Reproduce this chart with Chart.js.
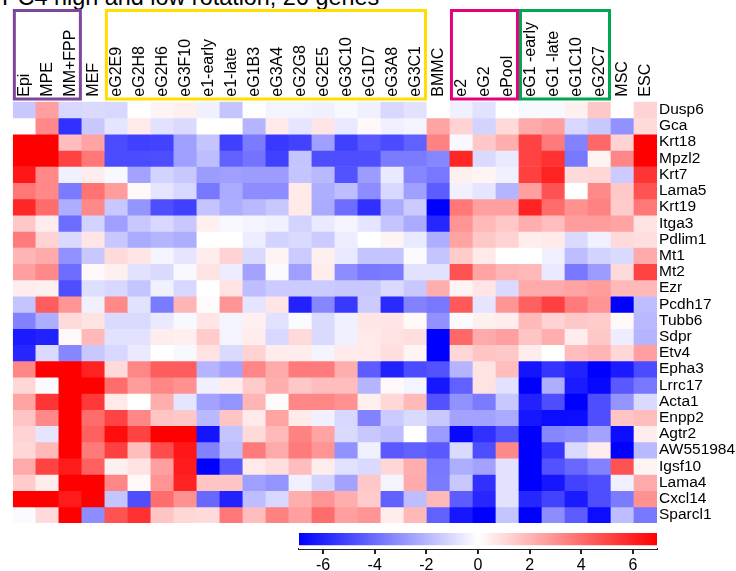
<!DOCTYPE html>
<html>
<head>
<meta charset="utf-8">
<script src="https://cdn.jsdelivr.net/npm/chart.js@4.4.1/dist/chart.umd.min.js"></script>
<style>
  body { margin: 0; background: #fff; overflow: hidden; }
  #wrap { position: relative; width: 736px; height: 571px; }
  #title { position: absolute; left: 2px; top: -14px; font: 23.4px "Liberation Sans", Arial, sans-serif; line-height: 1; white-space: nowrap; color: #000; }
  #heat { position: absolute; left: 0; top: 0; }
  #cbar { position: absolute; left: 280px; top: 525px; }
</style>
</head>
<body>
<div id="wrap">
  <div id="title">PC4 high and low rotation, 26 genes</div>
  <canvas id="heat" width="736" height="571"></canvas>
  <canvas id="cbar" width="400" height="46"></canvas>
</div>
<script>
const samples = ['Epi', 'MPE', 'MM+FPP', 'MEF', 'eG2E9', 'eG2H8', 'eG2H6', 'eG3F10', 'e1-early', 'e1-late',
  'eG1B3', 'eG3A4', 'eG2G8', 'eG2E5', 'eG3C10', 'eG1D7', 'eG3A8', 'eG3C1', 'BMMC', 'e2', 'eG2', 'ePool',
  'eG1 -early', 'eG1 -late', 'eG1C10', 'eG2C7', 'MSC', 'ESC'];
const genes = ['Dusp6', 'Gca', 'Krt18', 'Mpzl2', 'Krt7', 'Lama5', 'Krt19', 'Itga3', 'Pdlim1', 'Mt1', 'Mt2', 'Ezr',
  'Pcdh17', 'Tubb6', 'Sdpr', 'Etv4', 'Epha3', 'Lrrc17', 'Acta1', 'Enpp2', 'Agtr2', 'AW551984', 'Igsf10', 'Lama4',
  'Cxcl14', 'Sparcl1'];
// one row per gene, one value per sample (same order as samples)
const values = [
  [-1.5, 2.6, -1.1, -1, -1.1, 0, 0.3, 0.4, -0.4, -1.6, 0, -0.3, -0.3, -0.4, -0.2, -0.4, -1.1, -0.8, 0, -0.4, -0.8, 0, -0.2, -0.2, 0.4, 1.5, 0, 1.2],
  [0, 3.2, -5.6, -1.5, -0.7, 0.6, -0.8, -1, 0, 0, -2, 0.6, -0.7, 0.7, -0.6, 0.2, -0.4, -0.3, 2.5, 1.2, -1.2, 1, 2.3, 2.6, -1.1, -1.5, -3, 1],
  [7, 7, 1.8, 2.5, -4.9, -5.2, -5.1, -2.6, -1.6, -5.2, -3.6, -5.4, -5.1, -2.6, -5.2, -4.5, -4.9, -4.3, 3.4, -0.2, 1.5, 2.2, 5.1, 3.6, -3.4, 4.1, 1.2, 7],
  [7, 7, 5.1, 3.7, -4.9, -4.9, -4.8, -2.6, -1.8, -4.3, -3.8, -5.2, -1.6, -4.8, -4.8, -4.8, -3.6, -3.6, -3.3, 5.9, -1, -0.6, 5.1, 5.6, -3.7, 0.3, 3.3, 7],
  [6.3, 3.2, -0.4, 0.5, -0.2, -2.5, -1.2, -1.5, -2.7, -2.6, -2.7, -2.7, -1.6, -1.9, -4.7, -2.7, -0.6, -3.3, -3.7, 0.4, 0.3, -0.4, 5.2, 6, 1, 1.1, -1.4, 5.5],
  [3.7, 3.2, -3.6, 3.8, 2.7, 0.2, -0.7, -1.1, -3.7, -2.3, -3.1, -3.1, 0.6, -2.2, -1.8, -3.1, -1.1, -2.6, -4.4, -0.4, -0.7, -2, 2.6, 4.7, 0, 3.2, 1.5, 4.7],
  [5.9, 4, -2.2, 3.2, -1.5, -2.9, -4.8, -5.2, -1.6, -2.2, -1.9, -1.5, 0.6, -2.3, -4, -5.6, -2.3, -1.4, -7, 3.7, 2.6, 2.6, 6, 4, 3, 3.4, 1.4, 3.7],
  [1.5, 0.5, -4, -1.2, -2.6, -1.5, -1.1, -1.5, 0.4, -0.2, -0.3, -0.4, -1.2, -0.6, -0.3, -0.7, -1.6, -2.3, -5.9, 2.9, 1.9, 1.5, 2.2, 1.8, 2.7, 2.7, 2.5, 0.8],
  [3.6, 1.2, -1, 0.7, -1.5, -2.3, -2, -2.2, 0, 0, -0.5, -1.2, -1, -1.4, -0.5, 0, 0.3, -0.6, -2.2, 2.5, 1.5, 1.2, 0.5, 0.6, -1, -0.4, 1, 0.9],
  [2, 2.3, -3, -1.5, 1, 0.7, -0.3, -0.7, 0.5, 1.2, -1, 0.3, -1.4, 0.4, -0.6, -1.6, -1.6, -0.1, -1.6, 1.4, 0.6, 0, 0, -0.4, -1.8, -1.2, -1, 2.3],
  [2.6, 3.2, -4, 0.2, 0.4, -0.8, -1, -0.2, 0.8, -0.5, -2.5, -0.1, -2.6, 0.5, -3.1, -3.7, -3.6, -0.8, -0.8, 4.7, 2.5, 2, 1.9, -0.6, -3.7, -2.7, 1, 5.1],
  [0.5, 0.4, -4.8, -0.9, -1.1, -1.6, -0.4, -1.1, 0, 0.8, -1.8, -1.4, -1.4, -1.4, -1.5, -1.5, -1, -1.5, 2.2, 0.3, 0.7, -1, 2.3, 2.3, 2.5, 2.7, 1.9, 1.9],
  [-1.6, 4.4, 2.9, -0.4, 3.2, -0.8, -3.6, 2, 0.1, 2.9, -0.7, 0.7, -6, -3.3, -5.4, -1.4, -5.8, -3.4, -3.7, 4.5, -0.7, 2.9, 4.3, 5.2, 3.6, 2.9, -7, -1.8],
  [-3.4, -2.2, 1, 0.8, -1, -1, -0.6, -0.2, 0.7, -0.3, 0.4, -0.8, -0.1, -1, -0.4, 0.7, 0.7, 0.2, -3, -0.1, 0.4, 0.5, 1.9, 1.2, 1.5, 1.4, 0.2, -1.9],
  [-6.2, -6, 0.2, 1.9, -0.8, -0.8, 0.5, 0.4, 1.4, -0.3, 0.5, -1.1, 1, -1, -0.4, 0.6, 0.8, 0.9, -7, 4.1, 2.3, 2.6, 1.6, 2.2, 0.5, 1.5, -0.5, -2],
  [-5.9, -1, -3.3, -1.5, -1.1, -0.6, 0, -0.2, 0.8, -1, 1.2, 0.5, 0.5, -0.3, 0.6, 0.6, 0.9, 0.3, -7, 1.1, 1.6, 1.5, 0.5, 0, 1.8, 2, 1.1, 2.6],
  [3.3, 7, 7, 6, 1, 3.3, 4.4, 4.4, -2, -2.5, 3.3, 2.3, 3.6, 3.6, 2.2, -4.4, -6, -4.9, -4.7, -2, 0.8, 1.8, -6.4, -5.5, -6, -7, -6.2, -4.9],
  [1.1, -0.1, 7, 7, 4, 2.7, 3.3, 3, -0.4, 0.5, 1.4, 2.2, 1.5, 1.8, 1.8, -2, 0.2, -0.3, -6.3, -4.3, 0.8, -0.8, -7, -2.2, -6.2, -6.7, -4.5, -3.7],
  [2.5, 5.5, 7, 5.4, 0.6, 0, 2.2, -0.7, -2.5, -2.9, 2, 0.1, 3.3, 3.3, 3, 0.4, 1.1, 1.9, -4.7, -3, -3.6, -1.5, -6, -4.8, -7, -4.8, -2.9, -1],
  [1.6, 3.2, 7, 4, 5.1, 3.3, 1.6, 1.5, -1.9, 1.6, 0.6, 2.5, 0.6, -0.4, -1.1, -3.4, -1.4, -1, -1.5, -2.5, -2.5, -2.3, -6.3, -6.6, -6.6, -4.8, 1.6, 1.8],
  [1.2, -0.7, 7, 4.3, 6.6, 5.1, 7, 7, -6.4, -1.6, 1, 1.9, 3.4, 2.5, -1, -1.5, -1.8, 0, -2.7, -6.7, -5.6, -4.7, -7, -3.3, -3.1, -2.5, -6.6, 0.5],
  [1.1, 1.9, 7, 3.6, 5.2, 1.8, 4.9, 6.3, -3.4, -1.8, 3.6, 2.3, 3.6, 2.9, -3, -0.4, -4.5, -4.3, -4.5, -1, -4.8, 3.2, -7, -5.5, -1, 0.5, -7, -1.9],
  [2.3, 5.1, 6.2, 4.3, 0.4, 0.8, 2.6, 6.2, -7, -4.5, 0.6, 0.9, 1.8, 0.5, -0.8, -1, 1.1, 2.2, -3.7, -2.2, -2.5, -0.8, -7, -4.7, -4.1, -3.4, 4.7, 0.3],
  [1.4, 0.5, 7, 7, 3.3, 0.2, 2.9, 6, 1.6, 1.6, -2.6, -2.9, -0.4, -1.2, -2.5, 1.5, -0.3, 2.3, -3.6, -1.5, -5.6, -0.8, -7, -6.3, -5.1, -4.8, -0.4, 2.3],
  [7, 7, 6.2, 7, -1.6, -4.8, 4, 3, -4.1, -6, -1.8, -1.1, 2.2, 2.9, 2.2, 1.4, -4.3, -1.8, 1.9, -4.4, -5.9, -0.8, -5.9, -5.1, -6.2, -4.8, -3.6, 3],
  [-0.1, 1, 7, -3.1, 4.7, 5.6, 1.6, 1.1, 1, 3.7, 1.8, 3.4, 2.6, 4, 2.6, 2.9, 0.5, 1.9, -4.3, -6.3, -7, -1.6, -7, -3.1, -4.4, -6.6, -1.8, -3.7]
];
const colorTicks = [-6, -4, -2, 0, 2, 4, 6];
const boxGroups = [['Epi', 'MM+FPP'], ['eG2E9', 'eG3C1'], ['e2', 'ePool'], ['eG1 -early', 'eG2C7']];

const LIM = 6.93;
const FONT = '"Liberation Sans", Arial, sans-serif';
Chart.defaults.font.family = FONT;
Chart.defaults.color = '#000';

function heatColor(v) {
  const t = Math.min(Math.abs(v) / LIM, 1), k = Math.round(255 * (1 - t));
  return v >= 0 ? `rgb(255,${k},${k})` : `rgb(${k},${k},255)`;
}

// coloured frames around groups of column labels
const boxColors = ['#7f479c', '#ffde00', '#e6007e', '#00a651'];
const groupBoxes = {
  id: 'groupBoxes',
  afterDraw(chart) {
    const x = chart.scales.x, c = chart.ctx, w = x.width / samples.length;
    c.save();
    c.lineWidth = 3;
    boxGroups.forEach(([a, b], i) => {
      const l = x.getPixelForValue(samples.indexOf(a)) - w / 2 + 1.5;
      const r = x.getPixelForValue(samples.indexOf(b)) + w / 2 - 1.5;
      c.strokeStyle = boxColors[i];
      c.strokeRect(l, 10.5, r - l, 88.5);
    });
    c.restore();
  }
};

new Chart(document.getElementById('heat'), {
  type: 'bar',
  data: {
    labels: samples,
    datasets: genes.map((g, r) => ({
      label: g,
      data: samples.map(() => 1),
      backgroundColor: values[r].map(heatColor),
      borderWidth: 0,
      barPercentage: 1,
      categoryPercentage: 1,
      stack: 'cells'
    }))
  },
  options: {
    responsive: false,
    animation: false,
    layout: { padding: { left: 9, right: 0, top: 0, bottom: 48 } },
    plugins: { legend: { display: false }, tooltip: { enabled: false } },
    scales: {
      x: {
        position: 'top', stacked: true,
        grid: { display: false, drawTicks: false, tickLength: 0 },
        border: { display: false },
        ticks: { autoSkip: false, minRotation: 90, maxRotation: 90, padding: 5, labelOffset: 19, font: { size: 16 } },
        afterFit: s => { s.height = 101.7; }
      },
      y: { stacked: true, min: 0, max: genes.length, reverse: true, display: false },
      y2: {
        type: 'category', labels: genes, position: 'right', offset: true,
        grid: { display: false, drawTicks: false, tickLength: 0 },
        border: { display: false },
        ticks: { autoSkip: false, padding: 2, font: { size: 15.5 } },
        afterFit: s => { s.width = 79; }
      }
    }
  },
  plugins: [groupBoxes]
});

// colour key
new Chart(document.getElementById('cbar'), {
  type: 'bar',
  data: {
    labels: ['key'],
    datasets: [{
      data: [[-LIM, LIM]],
      backgroundColor: ctx => {
        const ch = ctx.chart, xs = ch.scales.x;
        if (!ch.chartArea) return '#fff';
        const g = ch.ctx.createLinearGradient(xs.getPixelForValue(-LIM), 0, xs.getPixelForValue(LIM), 0);
        g.addColorStop(0, '#0000ff');
        g.addColorStop(0.5, '#ffffff');
        g.addColorStop(1, '#ff0000');
        return g;
      },
      borderColor: '#fff',
      borderWidth: { bottom: 4 },
      borderSkipped: false,
      barPercentage: 1,
      categoryPercentage: 1
    }]
  },
  options: {
    indexAxis: 'y',
    responsive: false,
    animation: false,
    layout: { padding: { left: 19, right: 23, top: 8, bottom: 0 } },
    plugins: { legend: { display: false }, tooltip: { enabled: false } },
    scales: {
      x: {
        type: 'linear', min: -LIM, max: LIM,
        afterBuildTicks: s => { s.ticks = colorTicks.map(v => ({ value: v })); },
        grid: { drawOnChartArea: false, drawTicks: true, tickLength: 5, color: '#222', lineWidth: 2 },
        border: { display: true, color: '#222', width: 2 },
        ticks: { padding: 2, font: { size: 16 } },
        afterFit: s => { s.height = 22; }
      },
      y: { display: false }
    }
  }
});
</script>
</body>
</html>
